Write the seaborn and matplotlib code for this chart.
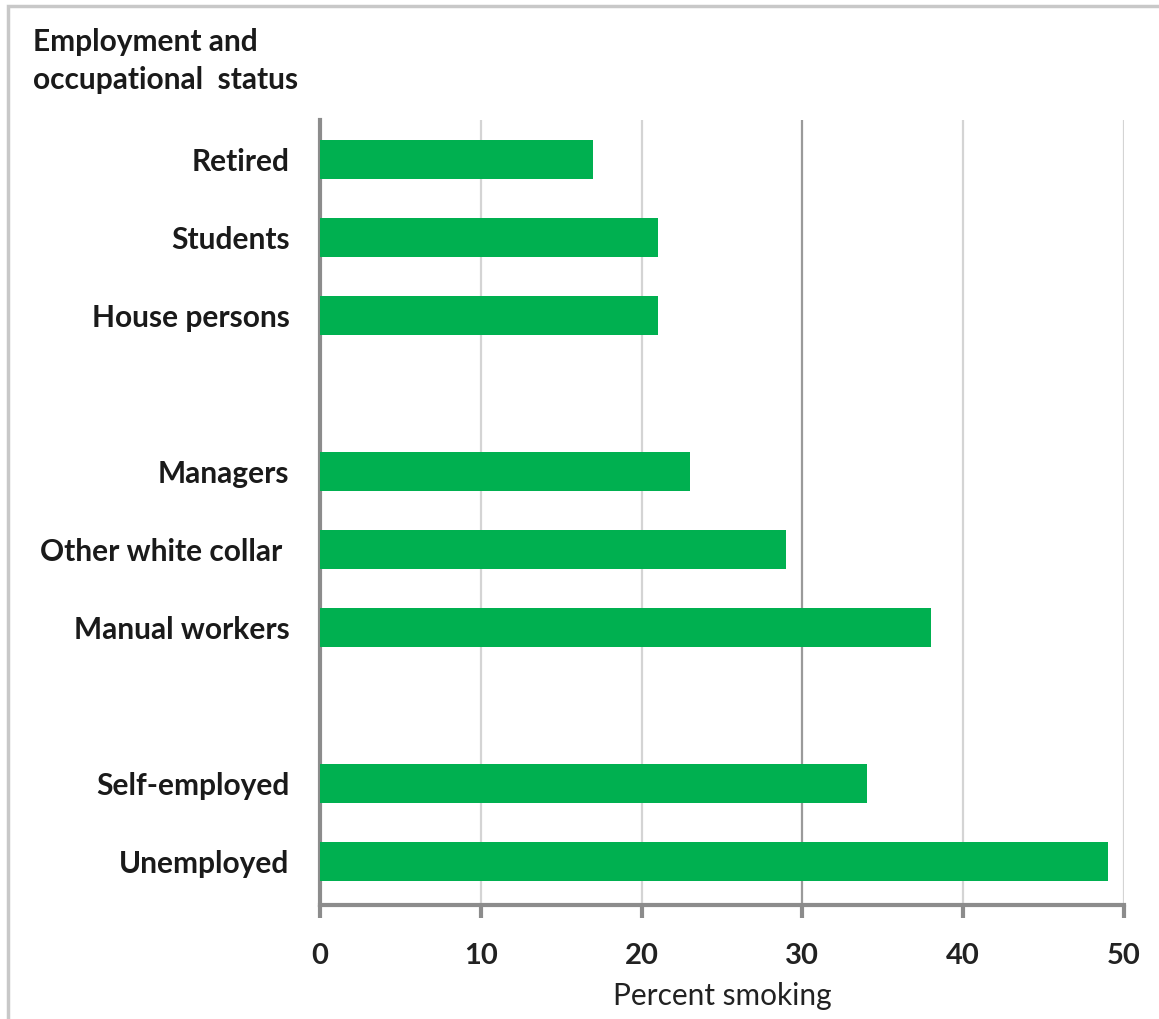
import matplotlib
matplotlib.use("Agg")
import matplotlib.pyplot as plt
import seaborn as sns
import pandas as pd
from matplotlib.patches import Rectangle

categories = ["Retired", "Students", "House persons", "Managers",
              "Other white collar ", "Manual workers", "Self-employed", "Unemployed"]
values = [17, 21, 21, 23, 29, 38, 34, 49]
order = ["Retired", "Students", "House persons", " ",
         "Managers", "Other white collar ", "Manual workers", "  ",
         "Self-employed", "Unemployed"]
xticks = [0, 10, 20, 30, 40, 50]

sns.set_theme(style="white")
plt.rcParams['font.family'] = ['Lato', 'DejaVu Sans']

df = pd.DataFrame({"category": categories, "value": values})

fig = plt.figure(figsize=(11.59, 10.19), dpi=100)
ax = fig.add_axes([320/1159, 1-905/1019, (1124-320)/1159, (905-120)/1019])

sns.barplot(data=df, x="value", y="category", order=order, orient="h",
            color="#00B050", saturation=1, width=0.5, linewidth=0, ax=ax, zorder=3)

ax.set_xlim(0, 50)
ax.set_ylim(len(order) - 0.44, -0.5)
ax.set_xticks(xticks)
ax.set_xticklabels([str(t) for t in xticks], fontsize=21, fontweight="bold", color="#222222")
ax.set_ylabel("")
ax.set_xlabel("Percent smoking", fontsize=21.5, color="#222222", labelpad=10)

ax.grid(axis="x", color="#d4d4d4", linewidth=1.6, zorder=0)
ax.grid(axis="y", visible=False)
gl = ax.xaxis.get_gridlines()
gl[3].set_color("#9a9a9a")
ax.set_axisbelow(True)

for lab in ax.get_yticklabels():
    lab.set_fontsize(21.5)
    lab.set_fontweight("bold")
    lab.set_color("#1a1a1a")
ax.tick_params(axis="y", length=0, pad=22)
ax.tick_params(axis="x", length=9, width=3, color="#8c8c8c", direction="out", pad=18, bottom=True)

for s in ["top", "right"]:
    ax.spines[s].set_visible(False)
for s in ["left", "bottom"]:
    ax.spines[s].set_color("#8c8c8c")
    ax.spines[s].set_linewidth(3)

fig.text(33/1159, 1-28/1019, "Employment and\noccupational  status", fontsize=21.5,
         fontweight="bold", color="#1a1a1a", va="top", ha="left", linespacing=1.45)

fig.patches.append(Rectangle((8/1159, -0.05), 1.1, 1 - 6/1019 + 0.05, transform=fig.transFigure,
                             fill=False, edgecolor="#c8c8c8", linewidth=2.5, zorder=0))

fig.savefig("out.png", dpi=100, facecolor="white")
